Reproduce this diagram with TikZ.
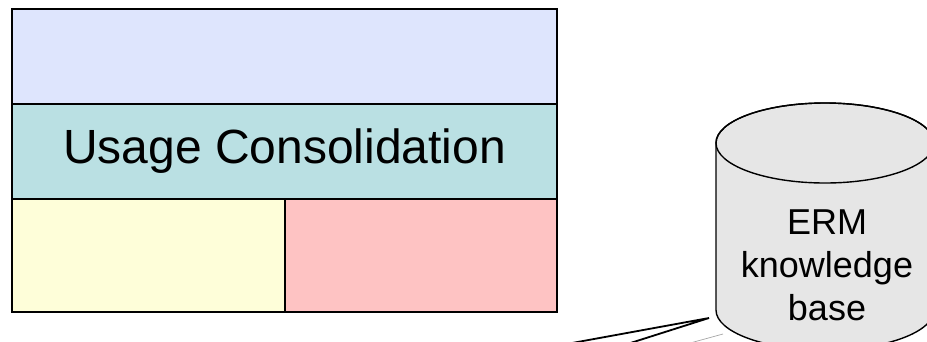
\documentclass[tikz,border=0pt]{standalone}
\usepackage{fontspec}
\setmainfont{Liberation Sans}
\definecolor{layerblue}{HTML}{DEE5FD}
\definecolor{layerteal}{HTML}{BAE0E3}
\definecolor{layeryellow}{HTML}{FEFED9}
\definecolor{layerpink}{HTML}{FEC3C3}
\definecolor{cylfill}{HTML}{E6E6E6}
\tikzset{
  layer/.style={draw=black, line width=2pt, rectangle, inner sep=0pt, anchor=north west},
  cyl/.style={draw=black, line width=1.4pt, fill=cylfill},
  wedge/.style={draw=black, line width=1.8pt},
  faint/.style={draw=black!35, line width=0.7pt}
}
\begin{document}
\begin{tikzpicture}[x=1pt, y=-1pt]
\useasboundingbox (0,0) rectangle (927,341);
\clip (0,0) rectangle (927,341);
% layers
\node[layer, fill=layerblue, minimum width=545pt, minimum height=95pt] (top) at (11,8) {};
\node[layer, fill=layerteal, minimum width=545pt, minimum height=95pt] (mid) at (11,103) {};
\node at (mid.center) [font=\fontsize{48}{56}\selectfont] (midtext) {Usage Consolidation};
\node[layer, fill=layeryellow, minimum width=273pt, minimum height=113pt] (botl) at (11,198) {};
\node[layer, fill=layerpink, minimum width=272pt, minimum height=113pt] (botr) at (284,198) {};
% cylinder
\path[cyl] (716,143) -- (716,310) arc[start angle=180, end angle=0, x radius=109, y radius=40]
  -- (934,143) arc[start angle=0, end angle=180, x radius=109, y radius=-40] -- cycle;
\draw[cyl, fill=none] (825,143) ellipse[x radius=109, y radius=40];
\node[align=center, font=\fontsize{36}{43}\selectfont] (kb) at (827,265) {ERM\\knowledge\\base};
% wedge lines
\coordinate (apex) at (709,318);
\coordinate (endA) at (479,360);
\coordinate (endB) at (577,360);
\coordinate (fa) at (723,334);
\coordinate (fb) at (650,354);
\draw[wedge] (endA) -- (apex) -- (endB);
\draw[faint] (fa) -- (fb);
\end{tikzpicture}
\end{document}
